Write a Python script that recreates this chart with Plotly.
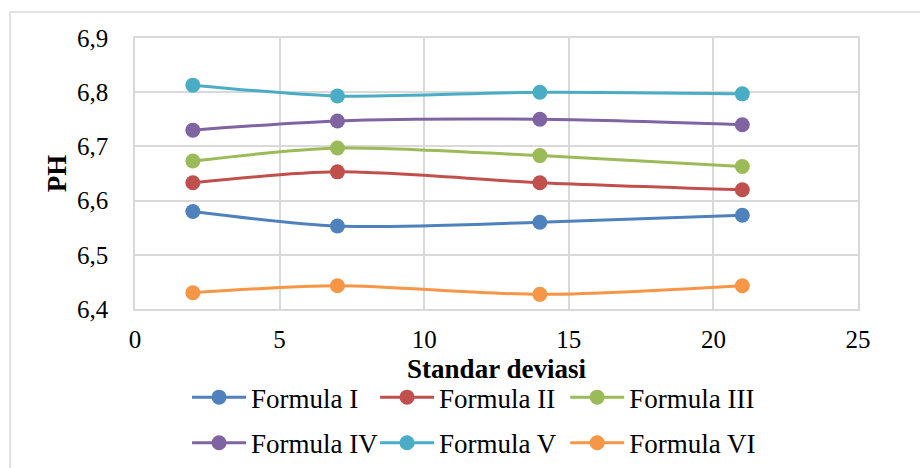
import plotly.graph_objects as go

# Standard deviation levels (x) and measured pH for each formula
std_dev = [2, 7, 14, 21]

formula_names = ["Formula I", "Formula II", "Formula III",
                 "Formula IV", "Formula V", "Formula VI"]

ph_f1 = [6.580, 6.553, 6.560, 6.573]
ph_f2 = [6.633, 6.653, 6.633, 6.620]
ph_f3 = [6.673, 6.697, 6.683, 6.663]
ph_f4 = [6.730, 6.747, 6.750, 6.740]
ph_f5 = [6.813, 6.793, 6.800, 6.797]
ph_f6 = [6.430, 6.443, 6.427, 6.443]

series = [ph_f1, ph_f2, ph_f3, ph_f4, ph_f5, ph_f6]
colors = ["#4F81BD", "#C0504D", "#9BBB59", "#8064A2", "#4BACC6", "#F79646"]

FONT = "Liberation Serif, Times New Roman, serif"
GRID = "#D9D9D9"

# legend grid: 3 columns x 2 rows, one legend box per entry
col_x = [0.072, 0.332, 0.595]
row_y = [-0.327, -0.495]

fig = go.Figure()
legends = {}
for i, (name, ys, col) in enumerate(zip(formula_names, series, colors)):
    key = "legend" if i == 0 else f"legend{i + 1}"
    fig.add_trace(go.Scatter(
        x=std_dev, y=ys, name=name,
        mode="lines+markers",
        line=dict(color=col, width=3, shape="spline", smoothing=0.8),
        marker=dict(color=col, size=15),
        legend=key,
    ))
    legends[key] = dict(
        x=col_x[i % 3], y=row_y[i // 3],
        xanchor="left", yanchor="middle",
        orientation="h",
        font=dict(family=FONT, size=27, color="#000000"),
        bgcolor="rgba(0,0,0,0)",
        itemwidth=54,
    )

fig.update_layout(
    width=920, height=468,
    margin=dict(l=135, r=62, t=38, b=159, autoexpand=False),
    paper_bgcolor="#FFFFFF",
    plot_bgcolor="#FFFFFF",
    separators=",.",
    font=dict(family=FONT, size=25, color="#000000"),
    showlegend=True,
    xaxis=dict(
        range=[0, 25], dtick=5, tick0=0,
        showgrid=True, gridcolor=GRID, gridwidth=1.5,
        showline=True, linecolor=GRID, linewidth=1.5, mirror=True,
        zeroline=False, ticks="",
        ticklabelstandoff=7,
        tickfont=dict(family=FONT, size=25),
        title=dict(text="<b>Standar deviasi</b>", standoff=7,
                   font=dict(family=FONT, size=27)),
    ),
    yaxis=dict(
        range=[6.4, 6.9], dtick=0.1, tick0=6.4, tickformat=".1f",
        showgrid=True, gridcolor=GRID, gridwidth=1.5,
        showline=True, linecolor=GRID, linewidth=1.5, mirror=True,
        zeroline=False, ticks="",
        ticklabelstandoff=20,
        tickfont=dict(family=FONT, size=25),
        title=dict(text="<b>PH</b>", standoff=3,
                   font=dict(family=FONT, size=27)),
    ),
    shapes=[dict(
        type="rect", xref="paper", yref="paper",
        x0=(10 - 135) / 723, x1=(925 - 135) / 723,
        y0=(309 - 475) / 271, y1=(309 - 12) / 271,
        line=dict(color=GRID, width=1.5), fillcolor="rgba(0,0,0,0)",
        layer="below",
    )],
    **legends,
)

fig.write_html("out.html")
